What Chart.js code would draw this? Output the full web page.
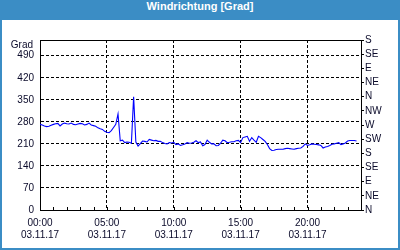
<!DOCTYPE html>
<html><head><meta charset="utf-8">
<script src="https://cdn.jsdelivr.net/npm/chart.js@4"></script>
<style>
html,body{margin:0;padding:0;background:#fff;}
#frame{position:relative;width:400px;height:250px;background:#3b8dc5;overflow:hidden;}
#title{position:absolute;left:0;top:0;width:400px;height:20px;line-height:19px;text-align:center;color:#fff;font:bold 11px "Liberation Sans",Arial,sans-serif;}
#body{position:absolute;left:2px;top:20px;width:396px;height:228px;background:#fff;}
canvas{display:block;}
</style></head>
<body>
<div id="frame"><div id="title">Windrichtung [Grad]</div><div id="body"><canvas id="c" width="396" height="228"></canvas></div></div>
<script>
// ---- data ----
const startHour = 0;
const stepMinutes = 10;
const directionDeg = [
  272,270,267,265,266,269,
  272,274,275,267,273,276,
  274,273,276,272,271,273,
  275,274,270,272,276,270,
  268,266,261,258,256,250,
  247,246,252,262,272,305,
  220,222,214,216,215,212,
  360,216,203,211,219,218,
  216,224,222,220,221,218,
  218,214,211,210,214,213,
  215,208,210,205,207,210,
  214,212,213,215,220,214,
  216,204,208,222,215,210,
  210,204,205,212,222,220,
  214,215,217,217,220,221,
  214,230,232,234,218,230,
  222,215,234,230,224,218,
  208,195,189,190,192,193,
  193,193,195,196,195,194,
  193,195,196,197,202,210,
  205,207,210,209,208,207,
  205,197,200,202,205,209,
  210,212,214,208,210,213,
  219,221,221,221,219
];
const xTickHours = [0,5,10,15,20];
const xTimeLabels = ['00:00','05:00','10:00','15:00','20:00'];
const xDateLabel = '03.11.17';
const minorTickHours = [1,2,3,4,5,6,7,8,9,10,11,12,13,14,15,16,17,18,19,20,21,22,23];
const yTicks = [0,70,140,210,280,350,420,490];
const yUnit = 'Grad';
const compassTicks = [0,45,90,135,180,225,270,315,360,405,450,495,540];
const compassLabels = ['N','NE','E','SE','S','SW','W','NW','N','NE','E','SE','S'];

// ---- style ----
const labelColor = '#0a0a2a';
const fontFamily = '"Liberation Sans", Arial, sans-serif';
const tickFont = {family: fontFamily, size: 10};

const extras = {
  id: 'extras',
  afterDraw(chart) {
    const {ctx, chartArea: a, scales} = chart;
    ctx.save();
    ctx.strokeStyle = '#000';
    ctx.lineWidth = 1;
    ctx.beginPath();
    ctx.moveTo(a.left, a.top + 0.5);
    ctx.lineTo(a.right + 1, a.top + 0.5);
    for (const h of minorTickHours) {
      const x = Math.round(scales.x.getPixelForValue(h)) + 0.5;
      ctx.moveTo(x, a.bottom);
      ctx.lineTo(x, a.bottom - 3);
    }
    ctx.stroke();
    ctx.fillStyle = labelColor;
    ctx.font = '10px ' + fontFamily;
    ctx.textAlign = 'right';
    ctx.textBaseline = 'middle';
    ctx.fillText(yUnit, a.left - 7, a.top + 5);
    ctx.restore();
  }
};

new Chart(document.getElementById('c'), {
  type: 'line',
  data: {
    datasets: [{
      data: directionDeg.map((v, i) => ({x: startHour + i * stepMinutes / 60, y: v})),
      borderColor: '#0000ff',
      borderWidth: 1.1,
      pointRadius: 0,
      tension: 0,
      fill: false
    }]
  },
  options: {
    responsive: false,
    animation: false,
    devicePixelRatio: 1,
    layout: {padding: {top: 20, left: 0, right: 0, bottom: 0}},
    plugins: {legend: {display: false}, tooltip: {enabled: false}, title: {display: false}},
    scales: {
      x: {
        type: 'linear', min: 0, max: 24,
        afterBuildTicks: s => { s.ticks = xTickHours.map(v => ({value: v})); },
        ticks: {
          autoSkip: false, maxRotation: 0, padding: 7, color: labelColor, font: tickFont,
          callback: v => [xTimeLabels[xTickHours.indexOf(v)], xDateLabel]
        },
        grid: {color: '#000', lineWidth: 1, drawTicks: false},
        border: {display: true, color: '#000', width: 1, dash: [3, 2]},
        afterFit: s => { s.height = 38; }
      },
      y: {
        position: 'left', min: 0, max: 540,
        afterBuildTicks: s => { s.ticks = yTicks.map(v => ({value: v})); },
        ticks: {autoSkip: false, padding: 6, color: labelColor, font: tickFont},
        grid: {color: '#000', lineWidth: 1, drawTicks: false},
        border: {display: true, color: '#000', width: 1, dash: [3, 2]},
        afterFit: s => { s.width = 38; }
      },
      y2: {
        position: 'right', min: 0, max: 540,
        afterBuildTicks: s => { s.ticks = compassTicks.map(v => ({value: v})); },
        ticks: {autoSkip: false, padding: 1, color: labelColor, font: tickFont,
          callback: v => compassLabels[compassTicks.indexOf(v)]},
        grid: {drawOnChartArea: false, drawTicks: true, tickLength: 3, color: '#000'},
        border: {display: true, color: '#000', width: 1},
        afterFit: s => { s.width = 37; }
      }
    }
  },
  plugins: [extras]
});
</script>
</body></html>
